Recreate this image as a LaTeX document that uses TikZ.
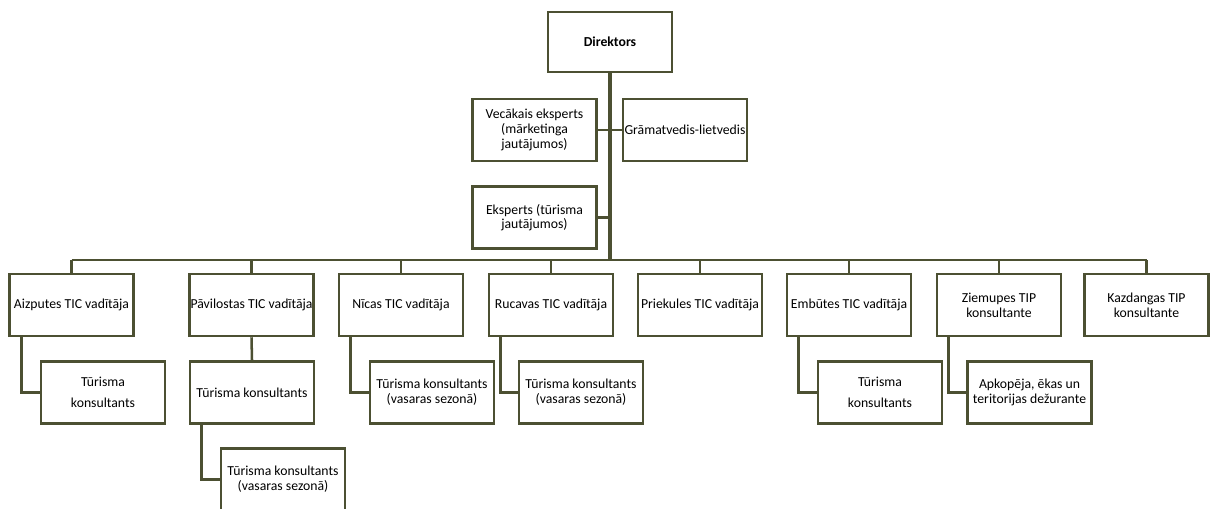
\documentclass[tikz,border=0pt]{standalone}
\usepackage{fontspec}
\setmainfont{Carlito}
\usetikzlibrary{backgrounds}
\definecolor{olive}{RGB}{76,80,50}
\tikzset{
  box/.style={draw=olive, line width=1.9pt, fill=white, minimum width=93pt, minimum height=46.5pt, inner sep=0pt, align=center, font=\fontsize{10.3}{11}\selectfont},
  conn/.style={draw=olive, line width=1.9pt},
  trunk/.style={draw=olive, line width=3pt},
}
\begin{document}
\begin{tikzpicture}[x=0.75pt,y=-0.75pt]
\useasboundingbox (0,0) rectangle (1210,508);
\clip (0,0) rectangle (1210,508);
% top
\node[box, minimum height=45pt] (dir) at (610,42) {\textbf{Direktors}};
\node[box] (vec) at (534.5,130) {Vecākais eksperts\\(mārketinga\\jautājumos)};
\node[box] (gram) at (685,130) {Grāmatvedis-lietvedis};
\node[box] (eks) at (534.5,217.5) {Eksperts (tūrisma\\jautājumos)};
\coordinate (busy) at (611,260);
\coordinate (ekj) at (611,217.5);
% level 2
\node[box] (aiz) at (71.5,305) {Aizputes TIC vadītāja};
\node[box] (pav) at (251.5,305) {Pāvilostas TIC vadītāja};
\node[box] (nic) at (401,305) {Nīcas TIC vadītāja};
\node[box] (ruc) at (551,305) {Rucavas TIC vadītāja};
\node[box] (pri) at (700,305) {Priekules TIC vadītāja};
\node[box] (emb) at (849,305) {Embūtes TIC vadītāja};
\node[box] (zie) at (999,305) {Ziemupes TIP\\konsultante};
\node[box] (kaz) at (1146.5,305) {Kazdangas TIP\\konsultante};
% level 3
\node[box] (aizs) at (103,392.5) {Tūrisma\\[5pt]konsultants};
\node[box] (pavs) at (252,392.5) {Tūrisma konsultants};
\node[box] (nics) at (432,392.5) {Tūrisma konsultants\\(vasaras sezonā)};
\node[box] (rucs) at (581,392.5) {Tūrisma konsultants\\(vasaras sezonā)};
\node[box] (embs) at (880,392.5) {Tūrisma\\[5pt]konsultants};
\node[box] (zies) at (1029.5,392.5) {Apkopēja, ēkas un\\teritorijas dežurante};
\node[box] (pavs2) at (283,479.5) {Tūrisma konsultants\\(vasaras sezonā)};
% connectors
\begin{scope}[on background layer]
\draw[trunk] (dir.south) -- (dir.south |- busy);
\draw[conn] (vec.east) -- (gram.west);
\draw[conn] (eks.east) -- (ekj);
\draw[conn, line width=2.2pt] (aiz.north |- busy) -- (kaz.north |- busy);
\foreach \n in {aiz,pav,nic,ruc,pri,emb,zie,kaz}{
  \draw[conn] (\n.north |- busy) -- (\n.north);
}
\draw[conn] (pav.south) -- (pavs.north);
\foreach \a/\b in {aiz/aizs,nic/nics,ruc/rucs,emb/embs,zie/zies,pavs/pavs2}{
  \draw[conn] ([xshift=9.75pt]\a.south west) |- (\b.west);
}
\end{scope}
\end{tikzpicture}
\end{document}
